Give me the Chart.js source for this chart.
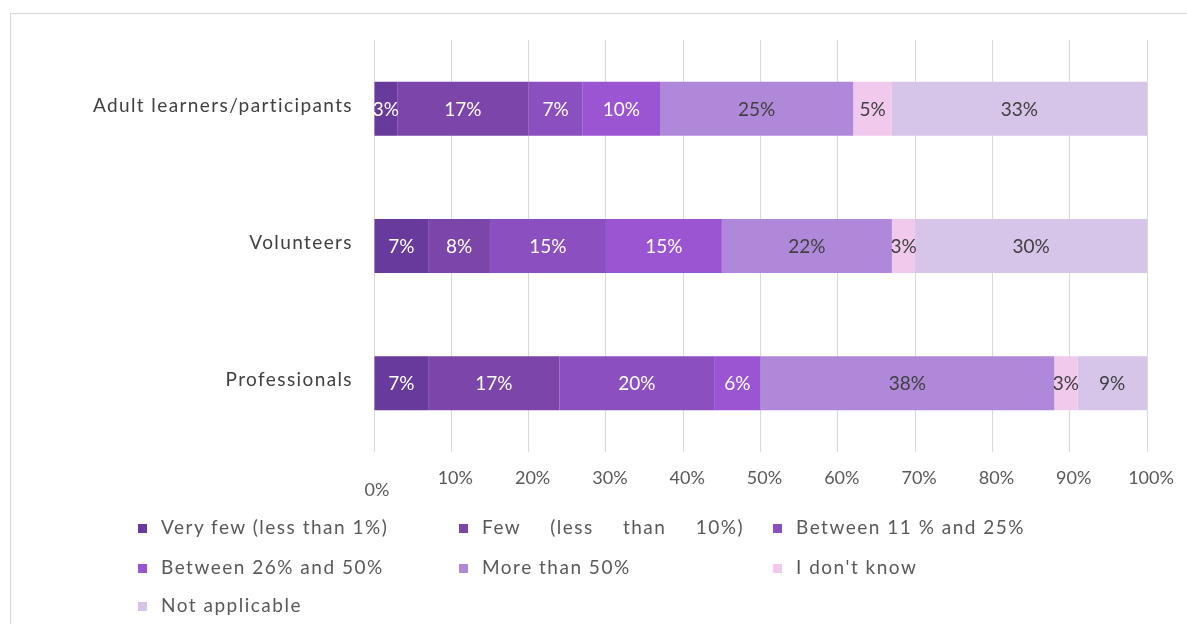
<!DOCTYPE html>
<html>
<head>
<meta charset="utf-8">
<script src="https://cdn.jsdelivr.net/npm/chart.js@4.4.0/dist/chart.umd.min.js"></script>
<style>
  html, body { margin: 0; padding: 0; background: #fff; }
  body { width: 1187px; height: 624px; position: relative; overflow: hidden; font-family: Lato, sans-serif; }
  .frame { position: absolute; left: 10px; top: 13px; width: 1300px; height: 800px; border-left: 1px solid #d9d9d9; border-top: 1px solid #d9d9d9; }
  #wrap { position: absolute; left: 0; top: 0; width: 1187px; height: 624px; }
  .item { position: absolute; font-size: 19px; letter-spacing: 1.5px; color: #595959; white-space: nowrap; line-height: 20px; }
  .box { position: absolute; width: 9px; height: 9px; }
</style>
</head>
<body>
<div class="frame"></div>
<div id="wrap"><canvas id="myChart" width="1187" height="624"></canvas></div>
<div id="legend"></div>
<script>
// categories, top to bottom
const groups = ['Adult learners/participants', 'Volunteers', 'Professionals'];

const seriesNames = [
  'Very few (less than 1%)',
  'Few (less than 10%)',
  'Between 11 % and 25%',
  'Between 26% and 50%',
  'More than 50%',
  "I don't know",
  'Not applicable'
];

// share of answers per group (%)
const veryFew   = [3, 7, 7];
const few       = [17, 8, 17];
const between11 = [7, 15, 20];
const between26 = [10, 15, 6];
const moreThan  = [25, 22, 38];
const dontKnow  = [5, 3, 3];
const notAppl   = [33, 30, 9];

const xTicks = [0, 10, 20, 30, 40, 50, 60, 70, 80, 90, 100];

const colors = ['#683a9b', '#7b45aa', '#8c4fc0', '#9b55d3', '#b088d9', '#f1c9ec', '#d7c4e9'];
const labelColors = ['#ffffff', '#ffffff', '#ffffff', '#ffffff', '#404040', '#404040', '#404040'];

const seriesData = [veryFew, few, between11, between26, moreThan, dontKnow, notAppl];

const datasets = seriesData.map((vals, i) => ({
  label: seriesNames[i],
  data: vals,
  backgroundColor: colors[i],
  borderWidth: 0,
  barPercentage: 0.393,
  categoryPercentage: 1
}));

// value labels in the middle of each segment
const barLabels = {
  id: 'barLabels',
  afterDatasetsDraw(chart) {
    const ctx = chart.ctx;
    ctx.save();
    ctx.font = '19px Lato';
    ctx.textAlign = 'center';
    ctx.textBaseline = 'middle';
    chart.data.datasets.forEach((ds, i) => {
      chart.getDatasetMeta(i).data.forEach((bar, j) => {
        const p = bar.getProps(['x', 'y', 'base'], true);
        ctx.fillStyle = labelColors[i];
        ctx.fillText(ds.data[j] + '%', (p.x + p.base) / 2, p.y + 1);
      });
    });
    ctx.restore();
  }
};

// axis text: percent labels under the grid (first one sits lower), group names on the left
const axisLabels = {
  id: 'axisLabels',
  afterDraw(chart) {
    const ctx = chart.ctx;
    const xs = chart.scales.x;
    const ys = chart.scales.y;
    ctx.save();
    ctx.font = '18px Lato';
    ctx.fillStyle = '#595959';
    ctx.textAlign = 'center';
    ctx.textBaseline = 'middle';
    xTicks.forEach((t, k) => {
      const px = xs.getPixelForValue(t) + (k === 0 ? 3 : 4);
      ctx.fillText(t + '%', px, k === 0 ? 490 : 478);
    });
    ctx.font = '19px Lato';
    ctx.letterSpacing = '1.4px';
    ctx.fillStyle = '#404040';
    ctx.textAlign = 'right';
    groups.forEach((g, j) => {
      ctx.fillText(g, 353, ys.getPixelForValue(j) - 3);
    });
    ctx.restore();
  }
};

new Chart(document.getElementById('myChart'), {
  type: 'bar',
  data: { labels: groups, datasets: datasets },
  options: {
    indexAxis: 'y',
    responsive: false,
    animation: false,
    layout: { padding: { top: 40, right: 40, bottom: 122, left: 0 } },
    plugins: { legend: { display: false }, tooltip: { enabled: false } },
    scales: {
      x: {
        stacked: true,
        min: 0,
        max: 100,
        ticks: { display: false, stepSize: 10 },
        grid: { color: '#d9d9d9', drawTicks: false },
        border: { display: false },
        afterFit(scale) { scale.height = 50; }
      },
      y: {
        stacked: true,
        grid: { display: false },
        border: { display: false },
        ticks: { display: false },
        afterFit(scale) { scale.width = 374; }
      }
    }
  },
  plugins: [barLabels, axisLabels]
});

// legend in three columns below the chart
const legendCols = [138, 459, 773];
const legendRows = [527, 567, 605];
const legend = document.getElementById('legend');
seriesNames.forEach((name, i) => {
  const col = legendCols[i % 3];
  const row = legendRows[Math.floor(i / 3)];
  const box = document.createElement('div');
  box.className = 'box';
  box.style.left = col + 'px';
  box.style.top = (row - 3) + 'px';
  box.style.background = colors[i];
  legend.appendChild(box);
  const txt = document.createElement('div');
  txt.className = 'item';
  txt.style.left = (col + 23) + 'px';
  txt.style.top = (row - 10) + 'px';
  txt.textContent = name;
  if (i === 1) {
    txt.style.width = '262px';
    txt.style.textAlignLast = 'justify';
    txt.style.textAlign = 'justify';
  }
  legend.appendChild(txt);
});
</script>
</body>
</html>
